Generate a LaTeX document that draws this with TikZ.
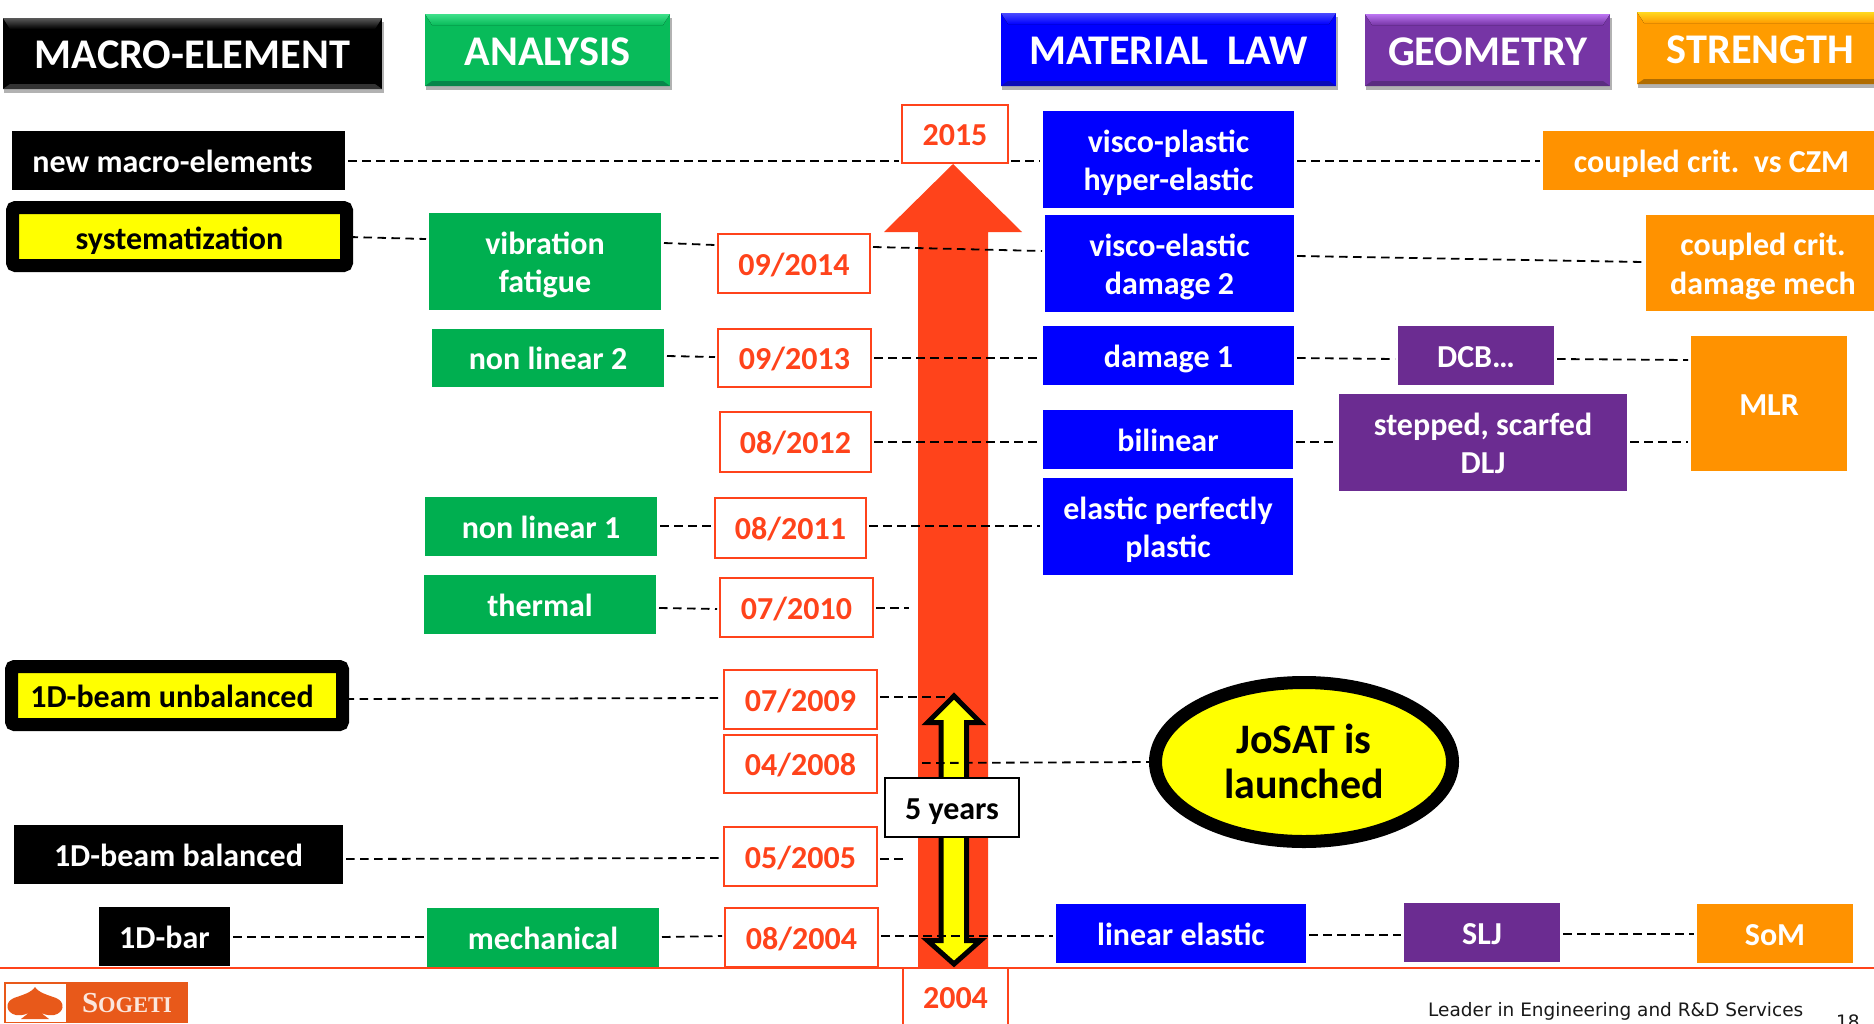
\documentclass[tikz,border=0pt]{standalone}
\usepackage{fontspec}
\setmainfont{Carlito}[BoldFont=Carlito Bold]
\newfontfamily\footfont{DejaVu Sans}
\newfontfamily\logofont{Liberation Serif}
\usetikzlibrary{calc,shapes.geometric}
\definecolor{mgreen}{HTML}{00AF50}
\definecolor{mblue}{HTML}{0000FF}
\definecolor{mpurple}{HTML}{6B2C91}
\definecolor{morange}{HTML}{FF9200}
\definecolor{mred}{HTML}{FF431B}
\definecolor{logoor}{HTML}{E8591A}
\definecolor{myel}{HTML}{FFFF00}
\newcommand{\stt}[1]{\rule{0pt}{32pt}#1\rule[-8.5pt]{0pt}{0pt}}
\newcommand{\bx}[7]{% name, style, x1,y1,x2,y2, text
 \node[#2,minimum width=#5pt-#3pt,minimum height=#6pt-#4pt] (#1) at ({(#3+#5)/2},{(#4+#6)/2}) {\stt{#7}};}
\newcommand{\conn}[4]{\draw[dashline] ([xshift=3]#1.east |- 0,#3) -- ([xshift=-3]#2.west |- 0,#4);}
\newcommand{\hdrbox}[9]{% name, x1,y1,x2,y2, body, top light, bottom dark, text
 \fill[black!30] (#2+1,#3+4) rectangle (#4+2,#5+4);
 \node[hdr,fill=#6,minimum width=#4pt-#2pt,minimum height=#5pt-#3pt] (#1) at ({(#2+#4)/2},{(#3+#5)/2}) {};
 \fill[top color=#7,bottom color=#6] (#2,#3) -- (#4,#3) -- (#4-7,#3+11) -- (#2+7,#3+11) -- cycle;
 \fill[#8] (#2,#5) -- (#4,#5) -- (#4-7,#5-5) -- (#2+7,#5-5) -- cycle;
 \node[hdr,yshift=-1.5pt] at (#1) {#9};}
\tikzset{
 x=1pt,y=-1pt,
 base/.style={inner sep=0pt,outer sep=0pt,align=center,font=\fontsize{32}{38.5}\selectfont\bfseries,text=white},
 blackbox/.style={base,fill=black},
 greenbox/.style={base,fill=mgreen},
 bluebox/.style={base,fill=mblue},
 purplebox/.style={base,fill=mpurple},
 orangebox/.style={base,fill=morange},
 datebox/.style={base,fill=white,draw=mred,line width=1.8pt,text=mred},
 yellowbox/.style={base,fill=myel,draw=black,line width=13pt,text=black,rounded corners=3pt},
 hdr/.style={base,font=\fontsize{42.3}{44}\selectfont\bfseries},
 dashline/.style={draw=black,line width=1.8pt,dash pattern=on 8.5pt off 5.5pt},
}
\begin{document}
\begin{tikzpicture}
\clip (0,0) rectangle (1874,1023);
\fill[white] (0,0) rectangle (1874,1023);
% bottom line
\draw[mred,line width=2pt] (0,967.5) -- (1874,967.5);
% headers
\definecolor{hgreen}{HTML}{08BB5A}\definecolor{hgreenT}{HTML}{3FE08A}\definecolor{hgreenB}{HTML}{07864A}
\definecolor{hblueT}{HTML}{4A4AFF}\definecolor{hblueB}{HTML}{0A0AB8}
\definecolor{hpur}{HTML}{7635A5}\definecolor{hpurT}{HTML}{BC75F2}\definecolor{hpurB}{HTML}{5A2C80}
\definecolor{hor}{HTML}{FF9C00}\definecolor{horT}{HTML}{FFD820}\definecolor{horB}{HTML}{B06C00}
\hdrbox{hM}{3}{18}{382}{89}{black}{black!65}{black!80}{MACRO-ELEMENT}
\hdrbox{hA}{425}{14}{670}{86}{hgreen}{hgreenT}{hgreenB}{ANALYSIS}
\hdrbox{hL}{1001}{13}{1336}{86}{mblue}{hblueT}{hblueB}{MATERIAL~~LAW}
\hdrbox{hG}{1365}{14}{1610}{86}{hpur}{hpurT}{hpurB}{GEOMETRY}
\hdrbox{hS}{1637}{12}{1884}{84}{hor}{horT}{horB}{STRENGTH}
% big arrow
\fill[mred] (918,967) -- (918,232) -- (884,232) -- (953,164) -- (1022,232) -- (988,232) -- (988,967) -- cycle;
% boxes
\bx{me1}{blackbox}{12}{131}{345}{190}{new macro-elements\rule{12pt}{0pt}}
\bx{me2}{yellowbox}{12.5}{207.5}{346.5}{265.5}{}
\node[base,text=black,yshift=-1pt] at (me2) {\stt{systematization}};
\bx{me3}{yellowbox}{11.5}{666.5}{342.5}{724.5}{}
\node[base,text=black,xshift=-5pt] at (me3) {\stt{1D-beam unbalanced}};
\bx{me4}{blackbox}{14}{825}{343}{884}{1D-beam balanced}
\bx{me5}{blackbox}{99}{907}{230}{966}{1D-bar}
\bx{an1}{greenbox}{429}{213}{661}{310}{vibration\\fatigue}
\bx{an2}{greenbox}{432}{329}{664}{387}{non linear 2}
\bx{an3}{greenbox}{425}{497}{657}{556}{non linear 1}
\bx{an4}{greenbox}{424}{575}{656}{634}{thermal}
\bx{an5}{greenbox}{427}{908}{659}{967}{mechanical}
\bx{la1}{bluebox}{1043}{111}{1294}{208}{visco-plastic\\hyper-elastic}
\bx{la2}{bluebox}{1045}{215}{1294}{312}{visco-elastic\\damage 2}
\bx{la3}{bluebox}{1043}{326}{1294}{385}{damage 1}
\bx{la4}{bluebox}{1043}{410}{1293}{469}{bilinear}
\bx{la5}{bluebox}{1043}{478}{1293}{575}{elastic perfectly\\plastic}
\bx{la6}{bluebox}{1056}{904}{1306}{963}{linear elastic}
\bx{ge1}{purplebox}{1398}{326}{1554}{385}{DCB…}
\bx{ge2}{purplebox}{1339}{394}{1627}{491}{stepped, scarfed\\DLJ}
\bx{ge3}{purplebox}{1404}{903}{1560}{962}{SLJ}
\bx{st1}{orangebox}{1543}{131}{1880}{190}{coupled crit.~~vs CZM}
\bx{st2}{orangebox}{1646}{215}{1880}{311}{coupled crit.\\damage mech}
\bx{st3}{orangebox}{1691}{336}{1847}{471}{MLR}
\bx{st4}{orangebox}{1697}{904}{1853}{963}{SoM}
% dates
\bx{d14}{datebox}{718}{234}{870}{293}{09/2014}
\bx{d13}{datebox}{718}{329}{871}{387}{09/2013}
\bx{d12}{datebox}{720}{412}{871}{472}{08/2012}
\bx{d11}{datebox}{715}{498}{866}{558}{08/2011}
\bx{d10}{datebox}{720}{578}{873}{637}{07/2010}
\bx{d09}{datebox}{724}{670}{877}{729}{07/2009}
\bx{d08}{datebox}{724}{735}{877}{793}{04/2008}
\bx{d05}{datebox}{724}{827}{877}{886}{05/2005}
\bx{d04}{datebox}{725}{908}{878}{967}{08/2004}
\bx{y15}{datebox}{902}{105}{1008}{163}{2015}
\bx{y04}{datebox}{903}{968}{1008}{1030}{}
\node[base,text=mred] at (955.5,998) {2004};
% free ends
\coordinate (e10) at (909,608);
\coordinate (e09) at (953,697);
\coordinate (e08) at (922,763);
\coordinate (e05) at (907,859);
% connectors
\conn{me1}{y15}{161}{161}
\conn{y15}{la1}{161}{161}
\conn{la1}{st1}{161}{161}
\conn{me2}{an1}{237}{239}
\conn{an1}{d14}{243}{245}
\conn{d14}{la2}{247}{251}
\conn{la2}{st2}{256}{262}
\conn{an2}{d13}{356}{357}
\conn{d13}{la3}{358}{358}
\conn{la3}{ge1}{358}{359}
\conn{ge1}{st3}{359}{360}
\conn{d12}{la4}{442}{442}
\conn{la4}{ge2}{442}{442}
\conn{ge2}{st3}{442}{442}
\conn{an3}{d11}{526}{526}
\conn{d11}{la5}{526}{526}
\conn{an4}{d10}{608}{609}
\draw[dashline] ([xshift=3]d10.east |- e10) -- (e10);
\conn{me3}{d09}{699}{698}
\draw[dashline] ([xshift=3]d09.east |- e09) -- (e09);
\conn{me4}{d05}{859}{858}
\draw[dashline] ([xshift=3]d05.east |- e05) -- (e05);
\conn{me5}{an5}{937}{937}
\conn{an5}{d04}{937}{936}
% yellow double arrow
\draw[fill=myel,draw=black,line width=5pt,miter limit=10]
 (954,696) -- (980.5,722.7) -- (966.7,722.7) -- (966.7,940.5) -- (980.5,940.5) -- (954,964)
 -- (927.5,940.5) -- (941,940.5) -- (941,722.7) -- (927.5,722.7) -- cycle;
\conn{d04}{la6}{936}{936}
\conn{la6}{ge3}{935}{935}
\conn{ge3}{st4}{934}{934}
\bx{fy}{base,fill=white,draw=black,line width=1.4pt,text=black}{885}{778}{1019}{837}{5 years}
% JoSAT
\node[ellipse,fill=myel,draw=black,line width=13pt,inner sep=0pt,outer sep=0pt,
 minimum width=297pt,minimum height=159pt,align=center,text=black,
 font=\fontsize{42}{45}\selectfont\bfseries] (jo) at (1304,762) {\raisebox{1.5pt}{JoSAT is}\\\raisebox{1pt}{launched}};
\draw[dashline] (e08) -- ([xshift=-1]jo.west);
% logo
\fill[logoor] (4,982) rectangle (188,1023);
\fill[white] (6,984) rectangle (66,1022);
\fill[logoor] (35,987) .. controls (39,993) and (48,995) .. (56,998)
 .. controls (66,1002) and (64,1013) .. (54,1015)
 .. controls (48,1016) and (43,1014) .. (40,1012)
 -- (49,1019) -- (21,1019) -- (30,1012)
 .. controls (27,1014) and (22,1016) .. (16,1015)
 .. controls (6,1013) and (4,1002) .. (14,998)
 .. controls (22,995) and (31,993) .. (35,987) -- cycle;
\node[inner sep=0pt,text=white!85!logoor,font=\logofont\bfseries\fontsize{29}{29}\selectfont] (logo) at (127,1003) {S\fontsize{22.5}{22.5}\selectfont OGETI};
% footer
\node[inner sep=0pt,anchor=west,text=black!90,font=\footfont\fontsize{18.5}{20}\selectfont] (foot) at (1428,1011) {Leader in Engineering and R\&D Services};
\node[inner sep=0pt,anchor=north west,text=black!90,font=\footfont\fontsize{18.5}{20}\selectfont] (page) at (1836,1015) {18};
\end{tikzpicture}
\end{document}
